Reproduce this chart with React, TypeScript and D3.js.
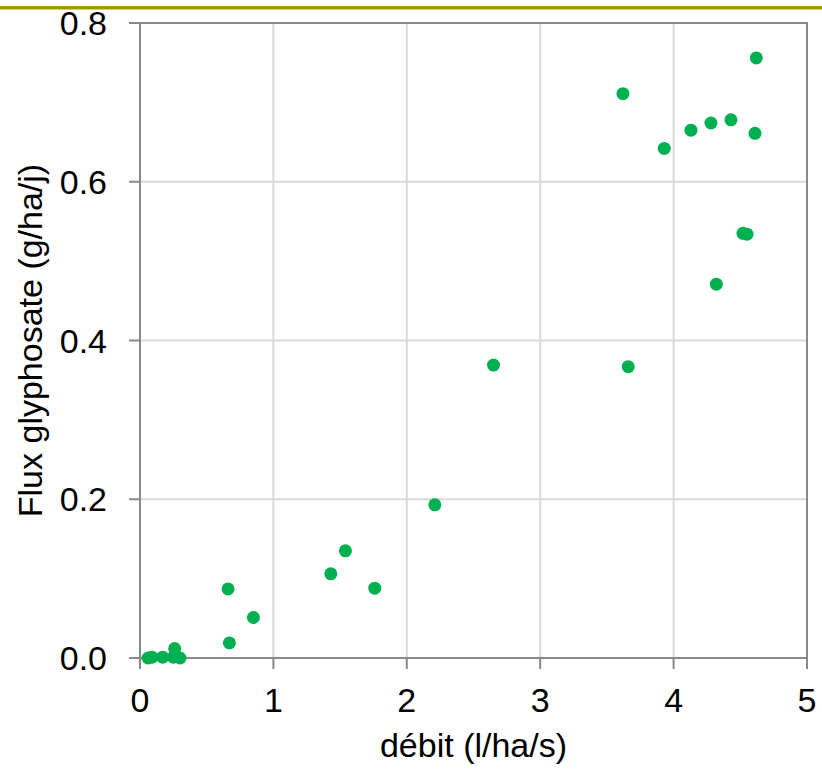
import * as d3 from "d3";

// débit (l/ha/s)
const debit = [0.06, 0.09, 0.17, 0.26, 0.25, 0.3, 0.66, 0.67, 0.85, 1.43, 1.54, 1.76, 2.21, 2.65, 3.62, 3.66, 3.93, 4.13, 4.28, 4.43, 4.32, 4.52, 4.55, 4.61, 4.62];
// Flux glyphosate (g/ha/j)
const flux = [0.0, 0.001, 0.001, 0.012, 0.001, 0.0, 0.087, 0.019, 0.051, 0.106, 0.135, 0.088, 0.193, 0.369, 0.711, 0.367, 0.642, 0.665, 0.674, 0.678, 0.471, 0.535, 0.534, 0.661, 0.756];

const xTicks = [0, 1, 2, 3, 4, 5];
const yTicks = [0, 0.2, 0.4, 0.6, 0.8];

const W = 822;
const H = 770;
const left = 140, right = 807, top = 23, bottom = 658;
const font = "'Liberation Sans', Arial, sans-serif";

export default function App() {
  const x = d3.scaleLinear().domain([0, 5]).range([left, right]);
  const y = d3.scaleLinear().domain([0, 0.8]).range([bottom, top]);
  const points = debit.map((d, i) => ({ x: d, y: flux[i] }));

  return (
    <svg width={W} height={H} style={{ position: "absolute", left: 0, top: 0, background: "#fff" }}>
      {/* olive band at the top */}
      <rect x={0} y={6} width={W} height={3.5} fill="#9c9c00" />

      {/* gridlines */}
      {xTicks.slice(1, -1).map(t => (
        <line key={"gx" + t} x1={x(t)} x2={x(t)} y1={top} y2={bottom} stroke="#d9d9d9" strokeWidth={2} />
      ))}
      {yTicks.slice(1, -1).map(t => (
        <line key={"gy" + t} x1={left} x2={right} y1={y(t)} y2={y(t)} stroke="#d9d9d9" strokeWidth={2} />
      ))}

      {/* frame */}
      <rect x={left} y={top} width={right - left} height={bottom - top} fill="none" stroke="#888" strokeWidth={2} />

      {/* ticks */}
      {yTicks.map(t => (
        <line key={"ty" + t} x1={left - 11} x2={left} y1={y(t)} y2={y(t)} stroke="#888" strokeWidth={2} />
      ))}
      {xTicks.map(t => (
        <line key={"tx" + t} x1={x(t)} x2={x(t)} y1={bottom} y2={bottom + 11} stroke="#888" strokeWidth={2} />
      ))}

      {/* tick labels */}
      {yTicks.map(t => (
        <text key={"ly" + t} x={107} y={y(t) + 12} textAnchor="end" fontFamily={font} fontSize={34} fill="#000">
          {d3.format(".1f")(t)}
        </text>
      ))}
      {xTicks.map(t => (
        <text key={"lx" + t} x={x(t)} y={712} textAnchor="middle" fontFamily={font} fontSize={34} fill="#000">
          {t}
        </text>
      ))}

      {/* axis titles */}
      <text x={(left + right) / 2} y={757} textAnchor="middle" fontFamily={font} fontSize={34} fill="#000">
        débit (l/ha/s)
      </text>
      <text transform={`translate(42,${(top + bottom) / 2}) rotate(-90)`} textAnchor="middle" fontFamily={font} fontSize={34} fill="#000">
        Flux glyphosate (g/ha/j)
      </text>

      {/* points */}
      {points.map((p, i) => (
        <circle key={i} cx={x(p.x)} cy={y(p.y)} r={6.5} fill="#00b050" />
      ))}
    </svg>
  );
}
